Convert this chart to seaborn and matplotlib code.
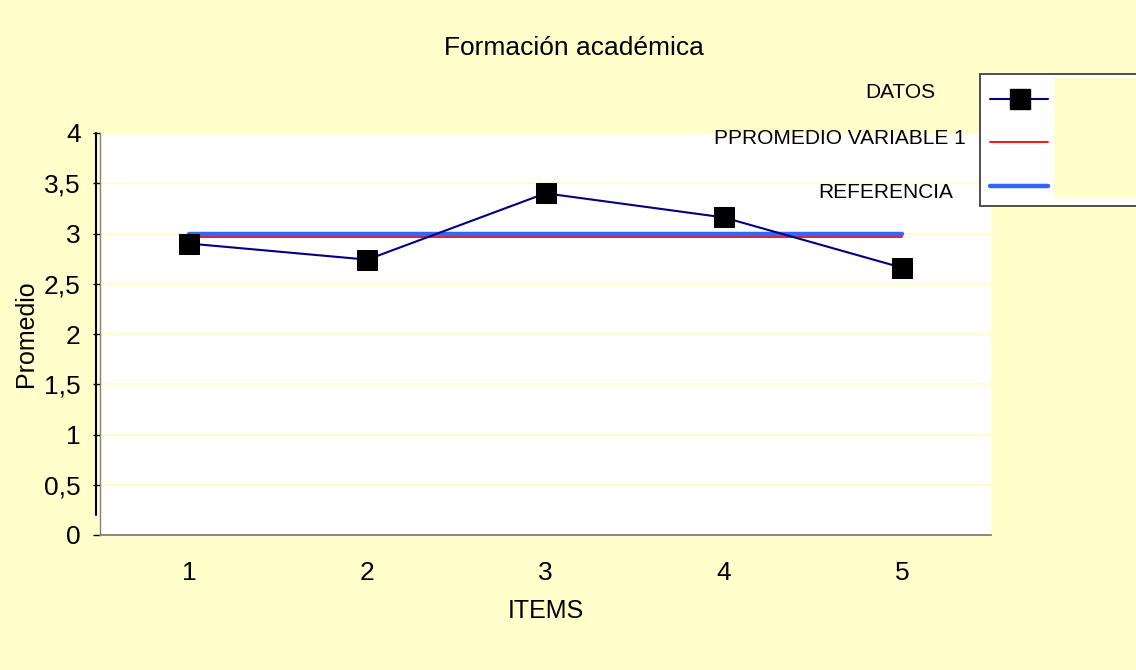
import seaborn as sns
import pandas as pd
import matplotlib.pyplot as plt
from matplotlib.lines import Line2D
from matplotlib.patches import Rectangle

# datos del grafico
items = [1, 2, 3, 4, 5]
datos = [2.90, 2.74, 3.40, 3.16, 2.66]
promedio = [2.97, 2.97, 2.97, 2.97, 2.97]
referencia = [3, 3, 3, 3, 3]
y_ticks = [0, 0.5, 1, 1.5, 2, 2.5, 3, 3.5, 4]
y_labels = ["0", "0,5", "1", "1,5", "2", "2,5", "3", "3,5", "4"]
leyenda = ["DATOS", "PPROMEDIO VARIABLE 1", "REFERENCIA"]

df = pd.DataFrame({"ITEMS": items, "DATOS": datos,
                   "PROMEDIO": promedio, "REFERENCIA": referencia})

sns.set_style("white")
plt.rcParams["font.family"] = ["Liberation Sans", "DejaVu Sans"]
plt.rcParams["text.color"] = "black"
plt.rcParams["axes.labelcolor"] = "black"
plt.rcParams["xtick.color"] = "black"
plt.rcParams["ytick.color"] = "black"

W, H = 1136, 670
BG = "#FFFFCC"
NAVY = "#000080"
BLUE = "#3366FF"

fig = plt.figure(figsize=(W / 100, H / 100), dpi=100, facecolor=BG)
ax = fig.add_axes([100 / W, 1 - 535 / H, 891 / W, 402 / H])
ax.set_facecolor("white")

sns.lineplot(data=df, x="ITEMS", y="PROMEDIO", color="red", lw=1.3, ax=ax, zorder=3)
sns.lineplot(data=df, x="ITEMS", y="REFERENCIA", color=BLUE, lw=3.2, ax=ax, zorder=4)
sns.lineplot(data=df, x="ITEMS", y="DATOS", color=NAVY, lw=1.5, marker="s",
             markersize=14, markerfacecolor="black", markeredgecolor="black",
             ax=ax, zorder=5)

ax.set_xlim(0.5, 5.5)
ax.set_ylim(0, 4)
ax.set_yticks(y_ticks)
ax.set_yticklabels(y_labels, fontsize=19)
ax.set_xticks(items)
ax.set_xticklabels([str(i) for i in items], fontsize=19)
ax.set_xticks([0.5, 1.5, 2.5, 3.5, 4.5, 5.5], minor=True)
ax.tick_params(axis="x", which="major", length=0, pad=19)
ax.tick_params(axis="x", which="minor", length=6, width=1, color="black", direction="out")
ax.tick_params(axis="y", length=5, width=1, color="black", direction="out", pad=9, left=True)

ax.yaxis.grid(True, color="#FFFFC4", lw=1.3)
ax.xaxis.grid(False)
ax.set_axisbelow(True)

for s in ["top", "right"]:
    ax.spines[s].set_visible(False)
ax.spines["left"].set_color("#808080")
ax.spines["left"].set_linewidth(1)
ax.spines["bottom"].set_color("#808080")
ax.spines["bottom"].set_linewidth(1.3)

ax.set_ylabel("Promedio", fontsize=18)
ax.yaxis.set_label_coords(-62 / 891, 0.5)
ax.set_xlabel("ITEMS", fontsize=18)
ax.xaxis.set_label_coords(0.5, -64 / 402)

# linea negra del eje vertical
fig.add_artist(Line2D([96 / W, 96 / W], [1 - 515 / H, 1 - 133 / H], color="black", lw=1.5))

fig.text(574 / W, 1 - 48 / H, "Formación académica", ha="center", va="center", fontsize=19)

# leyenda
fig.add_artist(Rectangle((980 / W, 1 - 206 / H), 170 / W, 132 / H, transform=fig.transFigure,
                         facecolor="white", edgecolor="#404040", lw=1.3, zorder=6))
fig.add_artist(Rectangle((1054 / W, 1 - 198 / H), 100 / W, 120 / H, transform=fig.transFigure,
                         facecolor=BG, edgecolor="none", zorder=7))
fig.add_artist(Line2D([990 / W, 1048 / W], [1 - 99 / H] * 2, color=NAVY, lw=1.5, zorder=8))
fig.add_artist(Line2D([1020 / W], [1 - 99 / H], marker="s", markersize=14, color="black", zorder=9))
fig.add_artist(Line2D([990 / W, 1048 / W], [1 - 142 / H] * 2, color="red", lw=1.3, zorder=8))
fig.add_artist(Line2D([990 / W, 1048 / W], [1 - 186 / H] * 2, color=BLUE, lw=3.2, zorder=8))

for txt, xr, yc in zip(leyenda, [935, 966, 953], [92, 138, 192]):
    fig.text(xr / W, 1 - yc / H, txt, ha="right", va="center", fontsize=15, zorder=10)

fig.savefig("out.png", dpi=100, facecolor=BG)
